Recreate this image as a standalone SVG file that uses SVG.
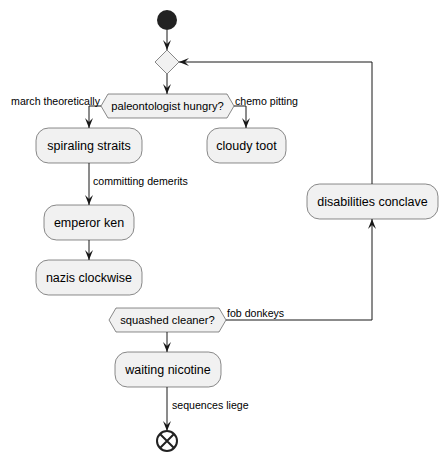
<svg xmlns="http://www.w3.org/2000/svg" width="448" height="459" viewBox="0 0 448 459">
<defs>
<style>
.box{fill:#F1F1F1;stroke:#181818;stroke-width:0.5}
.t{font-family:"Liberation Sans",Arial,sans-serif;font-size:12.5px;fill:#000;text-anchor:middle}
.h{font-family:"Liberation Sans",Arial,sans-serif;font-size:11.2px;fill:#000;text-anchor:middle}
.l{font-family:"Liberation Sans",Arial,sans-serif;font-size:10.6px;fill:#000}
.c{fill:none;stroke:#181818;stroke-width:1}
</style>
<marker id="ah" viewBox="-11 -5 12 10" refX="0" refY="0" markerWidth="12" markerHeight="10" markerUnits="userSpaceOnUse" orient="auto">
<path d="M0,0 L-10,-4 L-6,0 L-10,4 Z" fill="#181818"/>
</marker>
</defs>
<rect width="448" height="459" fill="#FFFFFF"/>
<g id="connectors">
<path class="c" d="M167,30 L167,50" marker-end="url(#ah)"/>
<path class="c" d="M167,74 L167,94" marker-end="url(#ah)"/>
<path class="c" d="M101,106 L89,106 L89,128" marker-end="url(#ah)"/>
<text class="l" x="100" y="104.5" text-anchor="end">march theoretically</text>
<path class="c" d="M234,106 L246,106 L246,128" marker-end="url(#ah)"/>
<text class="l" x="235" y="104.5">chemo pitting</text>
<path class="c" d="M89,163 L89,205" marker-end="url(#ah)"/>
<text class="l" x="93" y="185">committing demerits</text>
<path class="c" d="M89,240 L89,260" marker-end="url(#ah)"/>
<path class="c" d="M226,320 L372,320 L372,219" marker-end="url(#ah)"/>
<text class="l" x="227" y="316.5">fob donkeys</text>
<path class="c" d="M372,184 L372,62 L179,62" marker-end="url(#ah)"/>
<path class="c" d="M167,332 L167,352" marker-end="url(#ah)"/>
<path class="c" d="M167,387 L167,431" marker-end="url(#ah)"/>
<text class="l" x="172" y="409">sequences liege</text>
</g>
<g id="start"><circle cx="167" cy="20" r="10" fill="#222222"/></g>
<g id="merge"><polygon class="box" points="167,50 179,62 167,74 155,62"/></g>
<g id="paleontologist_hungry">
<polygon class="box" points="101,106 108,94 227,94 234,106 227,118 108,118"/>
<text class="h" x="167.5" y="110">paleontologist hungry?</text>
</g>
<g id="spiraling_straits">
<rect class="box" x="36" y="128" width="106" height="35" rx="12.5" ry="12.5"/>
<text class="t" x="89" y="150">spiraling straits</text>
</g>
<g id="cloudy_toot">
<rect class="box" x="207" y="128" width="79" height="35" rx="12.5" ry="12.5"/>
<text class="t" x="246.5" y="150">cloudy toot</text>
</g>
<g id="emperor_ken">
<rect class="box" x="44" y="205" width="90" height="35" rx="12.5" ry="12.5"/>
<text class="t" x="89" y="227">emperor ken</text>
</g>
<g id="nazis_clockwise">
<rect class="box" x="36" y="260" width="106" height="35" rx="12.5" ry="12.5"/>
<text class="t" x="89" y="282">nazis clockwise</text>
</g>
<g id="disabilities_conclave">
<rect class="box" x="307" y="184" width="131" height="35" rx="12.5" ry="12.5"/>
<text class="t" x="372.5" y="206">disabilities conclave</text>
</g>
<g id="squashed_cleaner">
<polygon class="box" points="109,320 116,308 219,308 226,320 219,332 116,332"/>
<text class="h" x="167.5" y="324">squashed cleaner?</text>
</g>
<g id="waiting_nicotine">
<rect class="box" x="115" y="352" width="106" height="35" rx="12.5" ry="12.5"/>
<text class="t" x="168" y="374">waiting nicotine</text>
</g>
<g id="end">
<circle cx="167" cy="441" r="10" fill="#FFFFFF" stroke="#222222" stroke-width="2"/>
<path d="M160,434 L174,448 M174,434 L160,448" stroke="#222222" stroke-width="2"/>
</g>
</svg>
